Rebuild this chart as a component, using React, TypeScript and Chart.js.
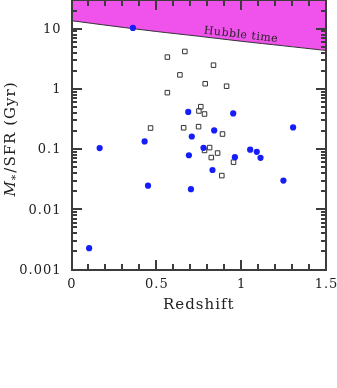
import React, { useEffect, useRef } from 'react';
import { Chart, registerables } from 'chart.js';
Chart.register(...registerables);

// Hubble time curve (Gyr) vs redshift
const hubbleZ = [0, 0.25, 0.5, 0.75, 1.0, 1.25, 1.5];
const hubbleAge = [13.6, 11.0, 9.0, 7.5, 6.2, 5.2, 4.35];

// Filled blue circles
const blueZ = [0.104, 0.166, 0.362, 0.431, 0.451, 0.688, 0.709, 0.692, 0.704, 0.778, 0.841, 0.831, 0.953, 0.963, 1.053, 1.092, 1.114, 1.249, 1.306];
const blueVal = [0.00226, 0.104, 10.3, 0.134, 0.0247, 0.414, 0.162, 0.079, 0.0216, 0.105, 0.204, 0.045, 0.392, 0.0735, 0.098, 0.09, 0.0716, 0.030, 0.229];

// Open squares
const openZ = [0.668, 0.565, 0.837, 0.639, 0.788, 0.914, 0.565, 0.762, 0.751, 0.784, 0.466, 0.661, 0.749, 0.890, 0.814, 0.784, 0.861, 0.824, 0.955, 0.886];
const openVal = [4.19, 3.38, 2.48, 1.71, 1.22, 1.11, 0.867, 0.507, 0.43, 0.383, 0.224, 0.226, 0.236, 0.178, 0.106, 0.095, 0.086, 0.0724, 0.0607, 0.0363];

const xTickLabels = [0, 0.5, 1, 1.5];
const xMinorTicks = [0, 0.1, 0.2, 0.3, 0.4, 0.5, 0.6, 0.7, 0.8, 0.9, 1.0, 1.1, 1.2, 1.3, 1.4, 1.5];
const yTickLabels = [0.001, 0.01, 0.1, 1, 10];
const yTickText = ['0.001', '0.01', '0.1', '1', '10'];
const yMantissas = [1, 2, 3, 4, 5, 6, 7, 8, 9];
const xTitle = 'Redshift';
const hubbleLabel = 'Hubble time';

const FONT = '"DejaVu Serif", serif';
const INK = '#3c3c3c';

const framePlugin = {
  id: 'framePlugin',
  afterDraw(chart: any) {
    const ctx: CanvasRenderingContext2D = chart.ctx;
    const a = chart.chartArea;
    const xs = chart.scales.x;
    const ys = chart.scales.y;
    ctx.save();
    const L = Math.round(a.left), R = Math.round(a.right);
    const T = Math.round(a.top), B = Math.round(a.bottom);

    ctx.fillStyle = INK;
    // frame
    ctx.fillRect(L - 1, T - 1, 2, B - T + 2);
    ctx.fillRect(R - 1, T - 1, 2, B - T + 2);
    ctx.fillRect(L - 1, B - 1, R - L + 2, 2);
    ctx.fillRect(L - 1, T - 1, R - L + 2, 2);

    // x ticks (inward, bottom and top)
    for (const v of xMinorTicks) {
      const px = Math.round(xs.getPixelForValue(v));
      const major = xTickLabels.some((t) => Math.abs(t - v) < 1e-6);
      const len = major ? 10 : 6;
      ctx.fillRect(px - 1, B - len, 2, len);
      ctx.fillRect(px - 1, T, 2, len);
    }
    // y ticks (inward, left and right)
    for (const dec of yTickLabels) {
      for (const m of yMantissas) {
        const v = m * dec;
        if (v > 30) continue;
        const py = Math.round(ys.getPixelForValue(v));
        const len = m === 1 ? 10 : 5;
        ctx.fillRect(L, py - 1, len, 2);
        ctx.fillRect(R - len, py - 1, len, 2);
      }
    }

    // tick labels
    ctx.fillStyle = '#222';
    ctx.font = `13px ${FONT}`;
    (ctx as any).letterSpacing = '1px';
    ctx.textBaseline = 'top';
    ctx.textAlign = 'center';
    xTickLabels.forEach((v) => {
      const px = xs.getPixelForValue(v);
      ctx.fillText(String(v), px + 0.5, a.bottom + 9);
    });
    ctx.textAlign = 'right';
    ctx.textBaseline = 'middle';
    yTickLabels.forEach((v, i) => {
      const py = ys.getPixelForValue(v);
      ctx.fillText(yTickText[i], a.left - 10, py + 1);
    });

    // x title
    ctx.font = `15px ${FONT}`;
    ctx.textAlign = 'center';
    ctx.textBaseline = 'middle';
    ctx.fillText(xTitle, (a.left + a.right) / 2, a.bottom + 36);

    // y title: M_* / SFR (Gyr)
    ctx.save();
    ctx.translate(11, 139);
    ctx.rotate(-Math.PI / 2);
    ctx.textAlign = 'left';
    ctx.textBaseline = 'middle';
    const fM = `italic 15px ${FONT}`;
    const fS = `11px ${FONT}`;
    const fR = `15px ${FONT}`;
    ctx.font = fM; const wM = ctx.measureText('M').width;
    ctx.font = fS; const wS = ctx.measureText('*').width;
    ctx.font = fR; const rest = '/SFR (Gyr)'; const wR = ctx.measureText(rest).width;
    const total = wM + wS + 1 + wR;
    let x0 = -total / 2;
    ctx.font = fM; ctx.fillText('M', x0, 0); x0 += wM;
    ctx.font = fS; ctx.fillText('*', x0, 5); x0 += wS + 1;
    ctx.font = fR; ctx.fillText(rest, x0, 0);
    ctx.restore();

    // Hubble time label along curve
    ctx.save();
    const p0x = xs.getPixelForValue(hubbleZ[0]);
    const p1x = xs.getPixelForValue(hubbleZ[hubbleZ.length - 1]);
    const p0y = ys.getPixelForValue(hubbleAge[0]);
    const p1y = ys.getPixelForValue(hubbleAge[hubbleAge.length - 1]);
    const ang = Math.atan2(p1y - p0y, p1x - p0x);
    ctx.translate(241, 35);
    ctx.rotate(ang);
    ctx.font = `11px ${FONT}`;
    (ctx as any).letterSpacing = '0.5px';
    ctx.textAlign = 'center';
    ctx.textBaseline = 'middle';
    ctx.fillStyle = '#222';
    ctx.fillText(hubbleLabel, 0, 0);
    ctx.restore();

    ctx.restore();
  },
};

export default function App() {
  const ref = useRef<HTMLCanvasElement>(null);
  useEffect(() => {
    if (!ref.current) return;
    const chart = new Chart(ref.current, {
      type: 'scatter',
      data: {
        datasets: [
          {
            label: 'blue',
            data: blueZ.map((z, i) => ({ x: z, y: blueVal[i] })),
            pointRadius: 3.1,
            pointBorderWidth: 0,
            pointBackgroundColor: 'rgb(20,30,250)',
            pointBorderColor: 'rgb(20,30,250)',
            showLine: false,
          },
          {
            label: 'open',
            data: openZ.map((z, i) => ({ x: z, y: openVal[i] })),
            pointStyle: 'rect',
            pointRadius: 3.2,
            pointBorderWidth: 1,
            pointBackgroundColor: 'rgba(255,255,255,0)',
            pointBorderColor: '#333',
            showLine: false,
          },
          {
            type: 'line',
            label: 'hubble',
            data: hubbleZ.map((z, i) => ({ x: z, y: hubbleAge[i] })),
            borderColor: '#333',
            borderWidth: 1,
            backgroundColor: '#f052ec',
            fill: 'end',
            pointRadius: 0,
            tension: 0.3,
          } as any,
        ],
      },
      options: {
        animation: false,
        responsive: false,
        devicePixelRatio: 1,
        layout: { autoPadding: false, padding: { left: 71.5, right: 11, top: 0, bottom: 118.5 } },
        plugins: { legend: { display: false }, tooltip: { enabled: false } },
        scales: {
          x: { type: 'linear', min: 0, max: 1.5, display: false },
          y: { type: 'logarithmic', min: 0.001, max: 30, display: false },
        },
      },
      plugins: [framePlugin],
    });
    return () => chart.destroy();
  }, []);
  return (
    <div style={{ position: 'fixed', left: 0, top: 0, width: 337, height: 388, background: '#fff' }}>
      <canvas ref={ref} width={337} height={388} style={{ width: 337, height: 388 }} />
    </div>
  );
}
